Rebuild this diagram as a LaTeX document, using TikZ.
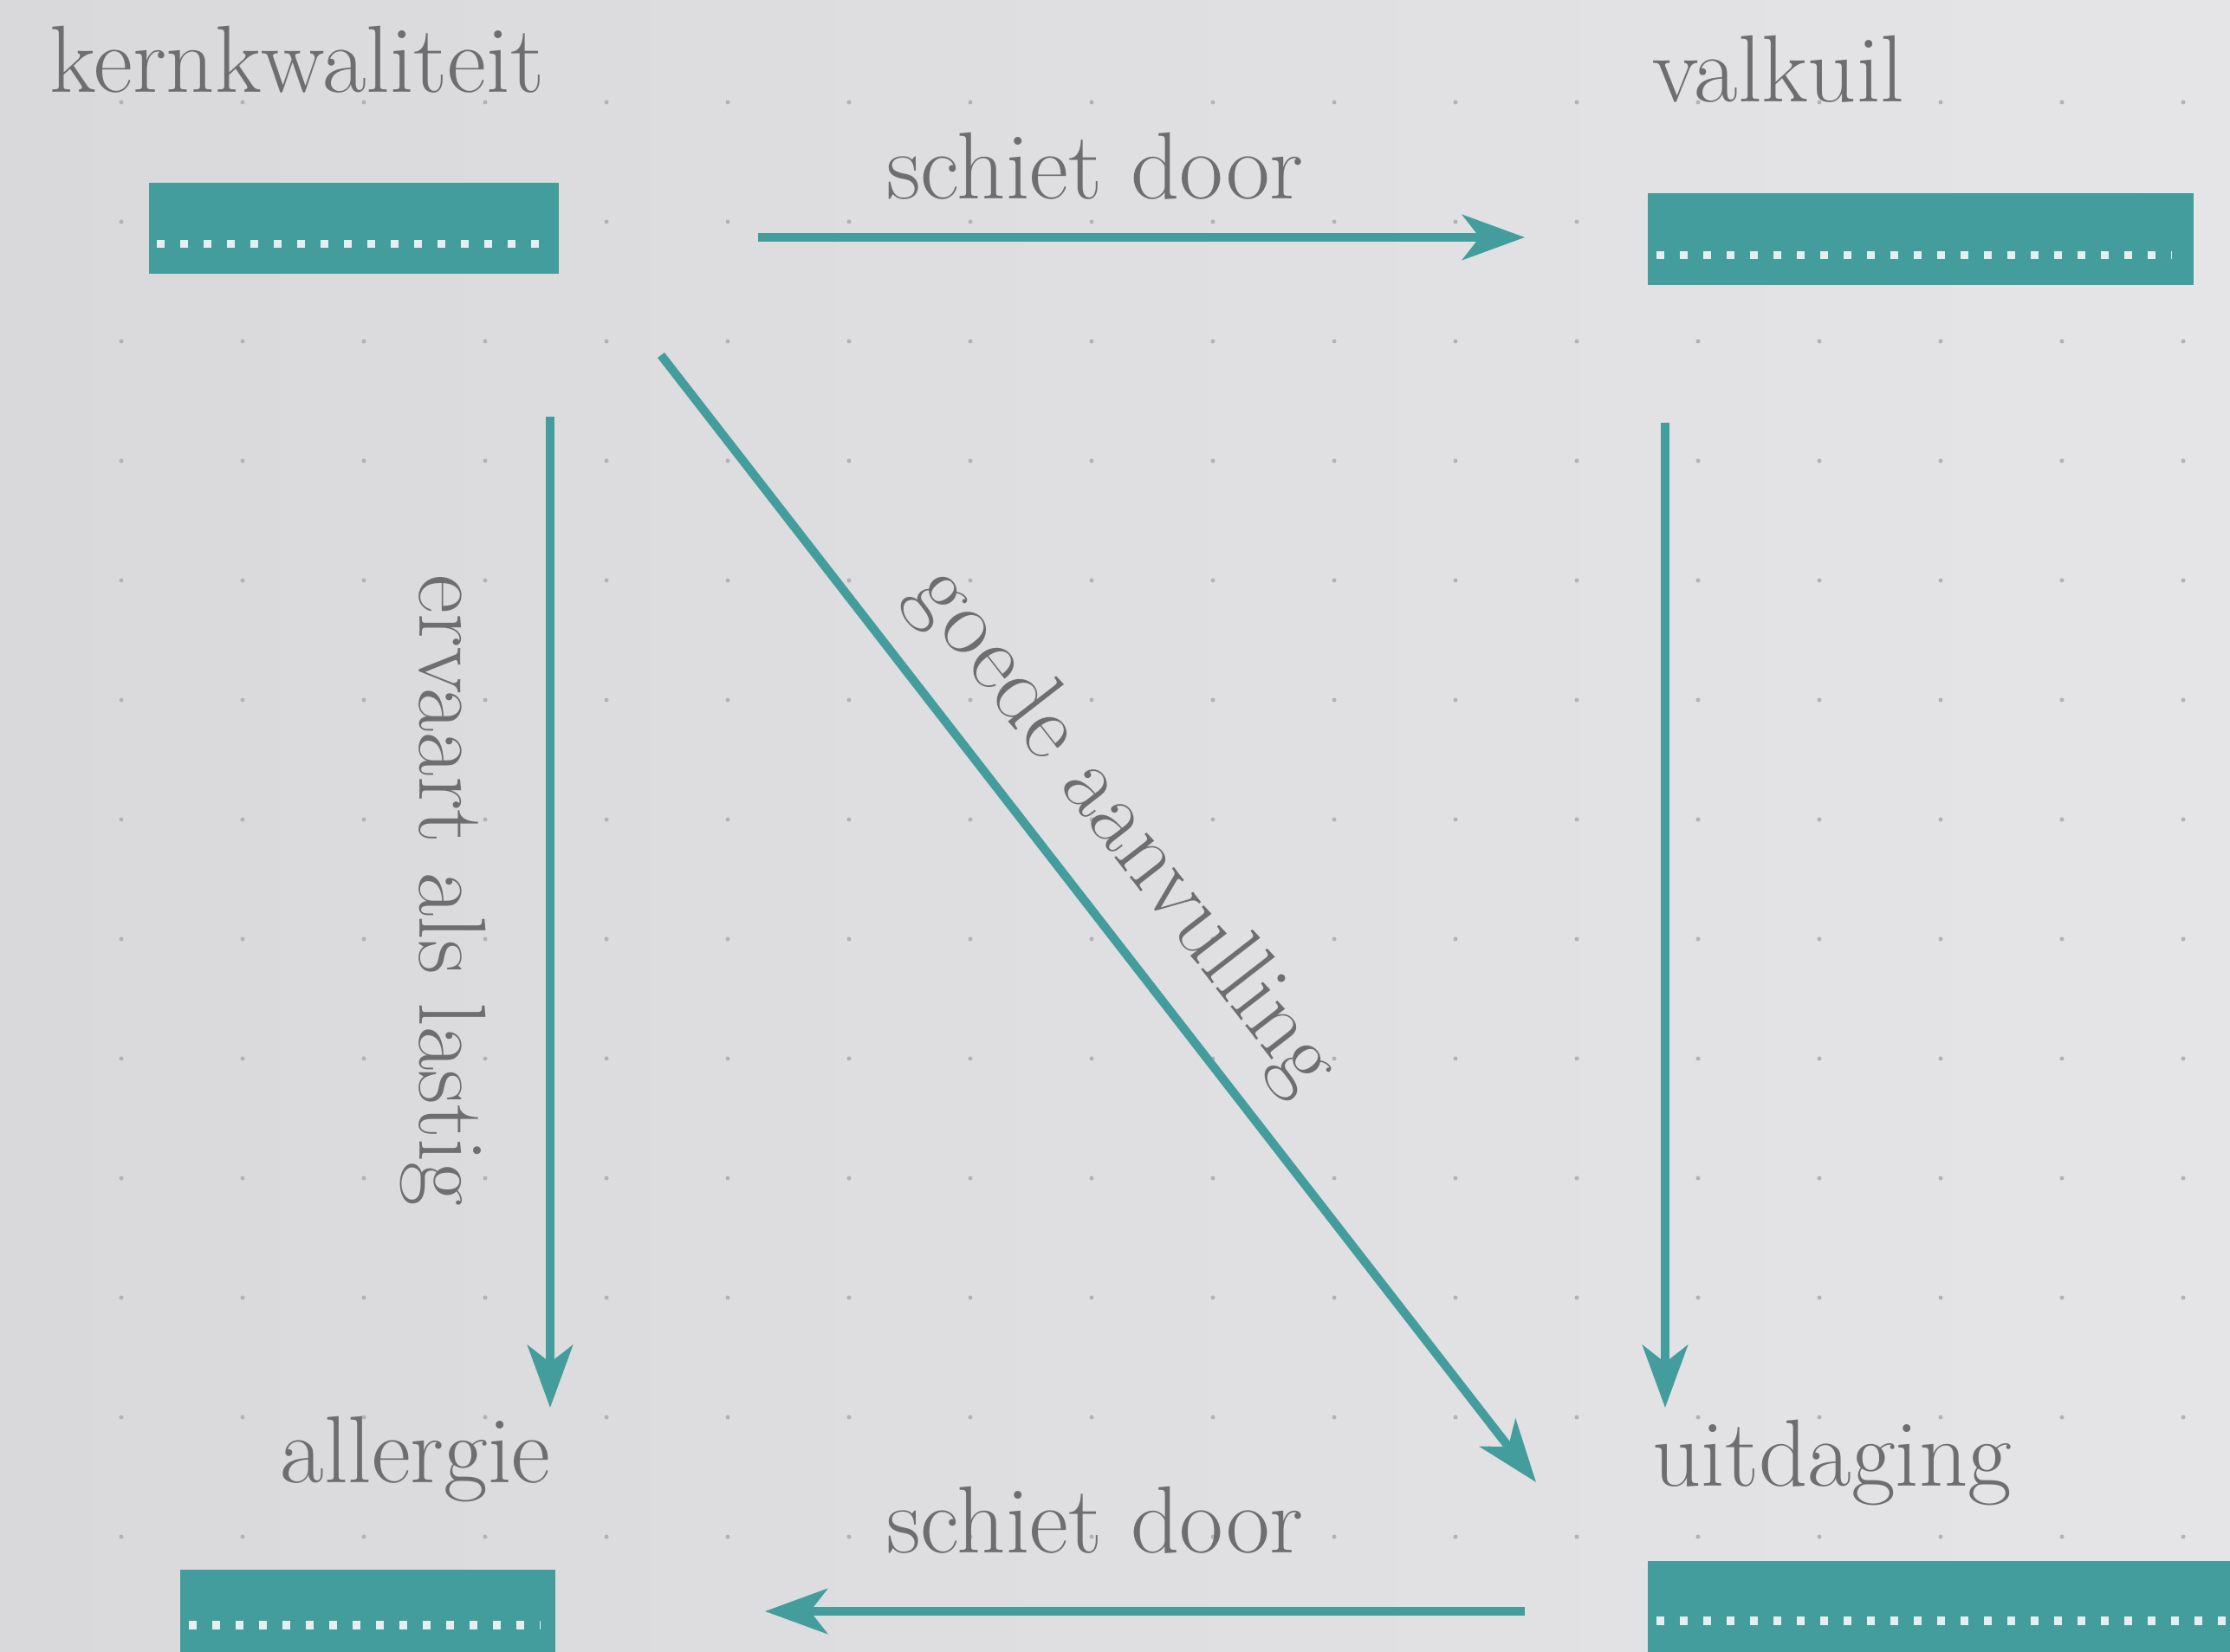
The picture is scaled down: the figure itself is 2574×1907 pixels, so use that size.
\documentclass[tikz,border=0pt]{standalone}
\usepackage{tikz}
\usetikzlibrary{positioning,arrows.meta}

\definecolor{paperl}{HTML}{D9D8DA}
\definecolor{paperr}{HTML}{E5E4E6}
\definecolor{petrol}{HTML}{439D9D}
\definecolor{ink}{HTML}{6E6E6E}
\definecolor{griddot}{HTML}{B3B3B5}
\definecolor{stitchw}{HTML}{E6EEEE}

\tikzset{
  lbl/.style={font=\fontsize{31.3}{36}\selectfont, text=ink, inner sep=0pt},
  bar/.style={fill=petrol, inner sep=0pt, anchor=north west},
  link/.style={color=petrol, line width=0.1cm,
    -{Stealth[length=0.72cm,width=0.52cm,inset=0.2cm]}},
  stitch/.style={draw=stitchw, line width=0.09cm, dash pattern=on 0.09cm off 0.18cm},
}

\begin{document}
\begin{tikzpicture}[x=0.01cm, y=0.01cm]

  \clip (0,0) rectangle (2574,-1907);
  \shade[left color=paperl, right color=paperr] (0,0) rectangle (2574,-1907);

  % dot grid
  \foreach \i in {0,...,17}
    \foreach \j in {0,...,13}
      \fill[griddot] (140+\i*140, -118-\j*138) circle[radius=0.025cm];

  % bars
  \node[bar, minimum width=4.73cm, minimum height=1.05cm] (kwbar) at (171,-210) {};
  \node[bar, minimum width=6.30cm, minimum height=1.06cm] (vkbar) at (1901,-222) {};
  \node[bar, minimum width=4.33cm, minimum height=1.10cm] (albar) at (207,-1811) {};
  \node[bar, minimum width=7.00cm, minimum height=1.10cm] (udbar) at (1901,-1801) {};

  \draw[stitch] (181,-282) -- (627,-282);
  \draw[stitch] (1912,-295) -- (2507,-295);
  \draw[stitch] (218,-1876) -- (624,-1876);
  \draw[stitch] (1912,-1871) -- (2580,-1871);

  % labels
  \node[lbl, anchor=base west] (kw) at (57,-107) {kernkwaliteit};
  \node[lbl, anchor=base west] (vk) at (1907,-118) {valkuil};
  \node[lbl, anchor=base west] (al) at (323,-1712) {allergie};
  \node[lbl, anchor=base west] (ud) at (1907,-1716) {uitdaging};

  \node[lbl, anchor=base] (sd1) at (1264,-230) {schiet door};
  \node[lbl, anchor=base] (sd2) at (1264,-1793) {schiet door};
  \node[lbl, anchor=base, rotate=-90] (eal) at (484,-1028) {ervaart als lastig};
  \node[lbl, anchor=base, rotate=-52.2] (ga) at (1275,-975) {goede aanvulling};

  % arrow ends
  \coordinate (kw-r) at (875,-274);
  \coordinate (vk-l) at (1760,-274);
  \coordinate (kw-d) at (635,-481);
  \coordinate (al-u) at (635,-1625);
  \coordinate (vk-d) at (1922,-488);
  \coordinate (ud-u) at (1922,-1625);
  \coordinate (kw-x) at (763,-410);
  \coordinate (ud-x) at (1773,-1711);
  \coordinate (ud-l) at (1760,-1860);
  \coordinate (al-r) at (883,-1860);

  \draw[link] (kw-r) -- (vk-l);
  \draw[link] (kw-d) -- (al-u);
  \draw[link] (vk-d) -- (ud-u);
  \draw[link] (kw-x) -- (ud-x);
  \draw[link] (ud-l) -- (al-r);

\end{tikzpicture}
\end{document}
